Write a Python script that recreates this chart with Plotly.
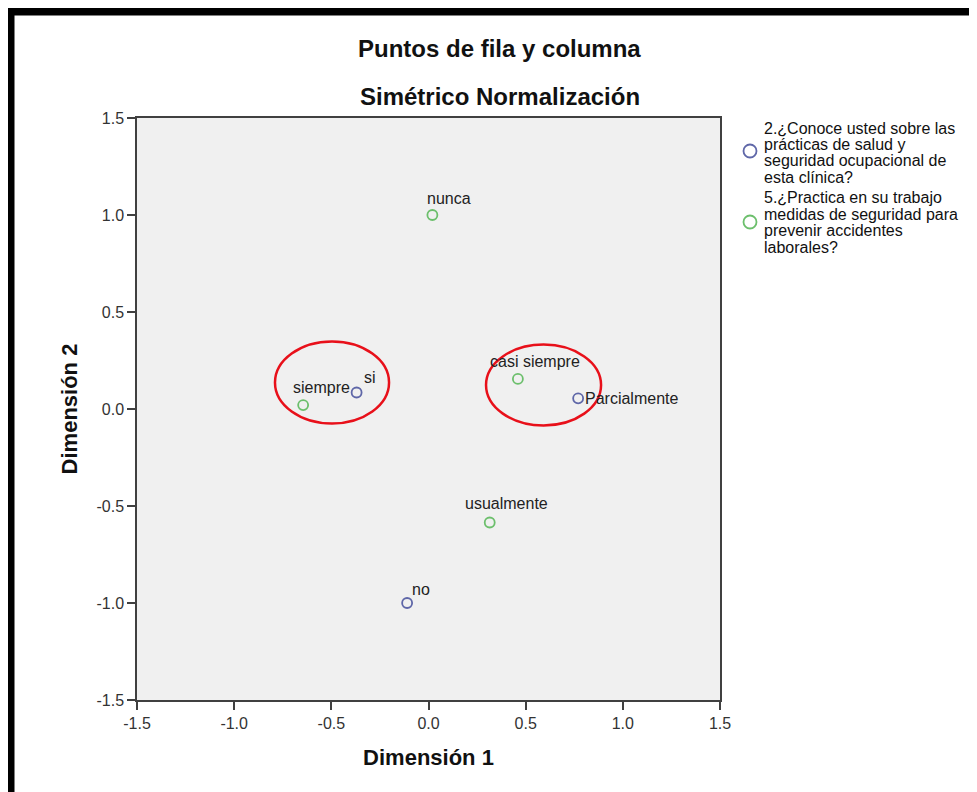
import plotly.graph_objects as go

# ---------------- data ----------------
q2_name = "2.¿Conoce usted sobre las prácticas de salud y seguridad ocupacional de esta clínica?"
q2_labels = ["si", "no", "Parcialmente"]
q2_x = [-0.37, -0.11, 0.77]
q2_y = [0.085, -1.0, 0.055]

q5_name = "5.¿Practica en su trabajo medidas de seguridad para prevenir accidentes laborales?"
q5_labels = ["siempre", "casi siempre", "usualmente", "nunca"]
q5_x = [-0.645, 0.46, 0.315, 0.02]
q5_y = [0.02, 0.155, -0.585, 1.0]

tick_vals = [-1.5, -1.0, -0.5, 0.0, 0.5, 1.0, 1.5]
tick_text = ["-1.5", "-1.0", "-0.5", "0.0", "0.5", "1.0", "1.5"]

q2_legend_lines = ["2.¿Conoce usted sobre las", "prácticas de salud y",
                   "seguridad ocupacional de", "esta clínica?"]
q5_legend_lines = ["5.¿Practica en su trabajo", "medidas de seguridad para",
                   "prevenir accidentes", "laborales?"]

# ---------------- style ----------------
OFF = 8                      # page body margin in the browser
W, H = 977 - OFF, 792 - OFF
# plot-area edges in window pixels
L, R, T, B = 137, 720, 118, 700
FONT = "Liberation Sans, Arial, sans-serif"
BLUE = "#5f67a8"
GREEN = "#6cbf6c"

def px_x(p):
    return (p - L) / (R - L)

def px_y(p):
    return (B - p) / (B - T)

# label offsets in pixels (xshift, yshift, xanchor)
q2_offsets = [(13, 15, "center"), (14, 14, "center"), (5, 0, "left")]
q5_offsets = [(18, 18, "center"), (17, 17, "center"), (17, 19, "center"), (17, 17, "center")]

fig = go.Figure()
fig.add_trace(go.Scatter(
    x=q2_x, y=q2_y, mode="markers", name=q2_name, showlegend=False,
    marker=dict(symbol="circle-open", size=10, color=BLUE, line=dict(width=1.8, color=BLUE)),
))
fig.add_trace(go.Scatter(
    x=q5_x, y=q5_y, mode="markers", name=q5_name, showlegend=False,
    marker=dict(symbol="circle-open", size=10, color=GREEN, line=dict(width=1.8, color=GREEN)),
))

annotations = []
for labels, xs, ys, offs in [(q2_labels, q2_x, q2_y, q2_offsets), (q5_labels, q5_x, q5_y, q5_offsets)]:
    for lab, x, y, (dx, dy, anc) in zip(labels, xs, ys, offs):
        annotations.append(dict(
            x=x, y=y, xref="x", yref="y", text=lab, showarrow=False,
            xanchor=anc, yanchor="middle", xshift=dx, yshift=dy,
            font=dict(family=FONT, size=16, color="#222"),
        ))

# titles
annotations.append(dict(x=px_x(499), y=px_y(49), xref="paper", yref="paper",
                        text="<b>Puntos de fila y columna</b>", showarrow=False,
                        xanchor="center", yanchor="middle",
                        font=dict(family=FONT, size=24, color="#111")))
annotations.append(dict(x=px_x(500), y=px_y(97), xref="paper", yref="paper",
                        text="<b>Simétrico Normalización</b>", showarrow=False,
                        xanchor="center", yanchor="middle",
                        font=dict(family=FONT, size=24, color="#111")))

# legend text lines
legend_centers = [[128, 144.5, 161, 177.5], [197.5, 214, 230.5, 247]]
for lines, centers in zip([q2_legend_lines, q5_legend_lines], legend_centers):
    for line, cy in zip(lines, centers):
        annotations.append(dict(x=px_x(762), y=px_y(cy), xref="paper", yref="paper",
                                text=line, showarrow=False, xanchor="left", yanchor="middle",
                                font=dict(family=FONT, size=16, color="#111")))

shapes = [
    # red highlight ellipses
    dict(type="circle", xref="x", yref="y", x0=-0.79, x1=-0.203, y0=-0.075, y1=0.348,
         line=dict(color="#e8101a", width=2.5)),
    dict(type="circle", xref="x", yref="y", x0=0.296, x1=0.888, y0=-0.085, y1=0.332,
         line=dict(color="#e8101a", width=2.5)),
    # legend symbols
    dict(type="circle", xref="paper", yref="paper", xsizemode="pixel", ysizemode="pixel",
         xanchor=px_x(750), yanchor=px_y(151), x0=-6.5, x1=6.5, y0=-6.5, y1=6.5,
         line=dict(color=BLUE, width=1.8)),
    dict(type="circle", xref="paper", yref="paper", xsizemode="pixel", ysizemode="pixel",
         xanchor=px_x(750), yanchor=px_y(222), x0=-6.5, x1=6.5, y0=-6.5, y1=6.5,
         line=dict(color=GREEN, width=1.8)),
    # black frame (top and left)
    dict(type="rect", xref="paper", yref="paper", x0=px_x(6.5), x1=px_x(985),
         y0=px_y(7), y1=px_y(800), fillcolor="black", line=dict(width=0), layer="above"),
]
shapes[-1] = dict(type="rect", xref="paper", yref="paper", x0=px_x(6.5), x1=px_x(14.5),
                  y0=px_y(7), y1=px_y(800), fillcolor="black", line=dict(width=0), layer="above")
shapes.append(dict(type="rect", xref="paper", yref="paper", x0=px_x(6.5), x1=px_x(985),
                   y0=px_y(7), y1=px_y(15.5), fillcolor="black", line=dict(width=0), layer="above"))

axis_common = dict(
    range=[-1.5, 1.5], tickvals=tick_vals, ticktext=tick_text,
    showgrid=False, zeroline=False, showline=True, mirror=True,
    linecolor="#404040", linewidth=1.5,
    ticks="outside", ticklen=8, tickwidth=1.5, tickcolor="#404040",
    tickfont=dict(family=FONT, size=16, color="#333"),
)

fig.update_layout(
    width=W, height=H,
    margin=dict(l=L - OFF, r=977 - R, t=T - OFF, b=792 - B, autoexpand=False),
    paper_bgcolor="white", plot_bgcolor="#f0f0f0",
    showlegend=False,
    xaxis=dict(**axis_common,
               title=dict(text="<b>Dimensión 1</b>", standoff=19,
                          font=dict(family=FONT, size=22, color="#111"))),
    yaxis=dict(**axis_common,
               title=dict(text="<b>Dimensión 2</b>", standoff=13,
                          font=dict(family=FONT, size=22, color="#111"))),
    annotations=annotations,
    shapes=shapes,
)

fig.write_html("out.html")
